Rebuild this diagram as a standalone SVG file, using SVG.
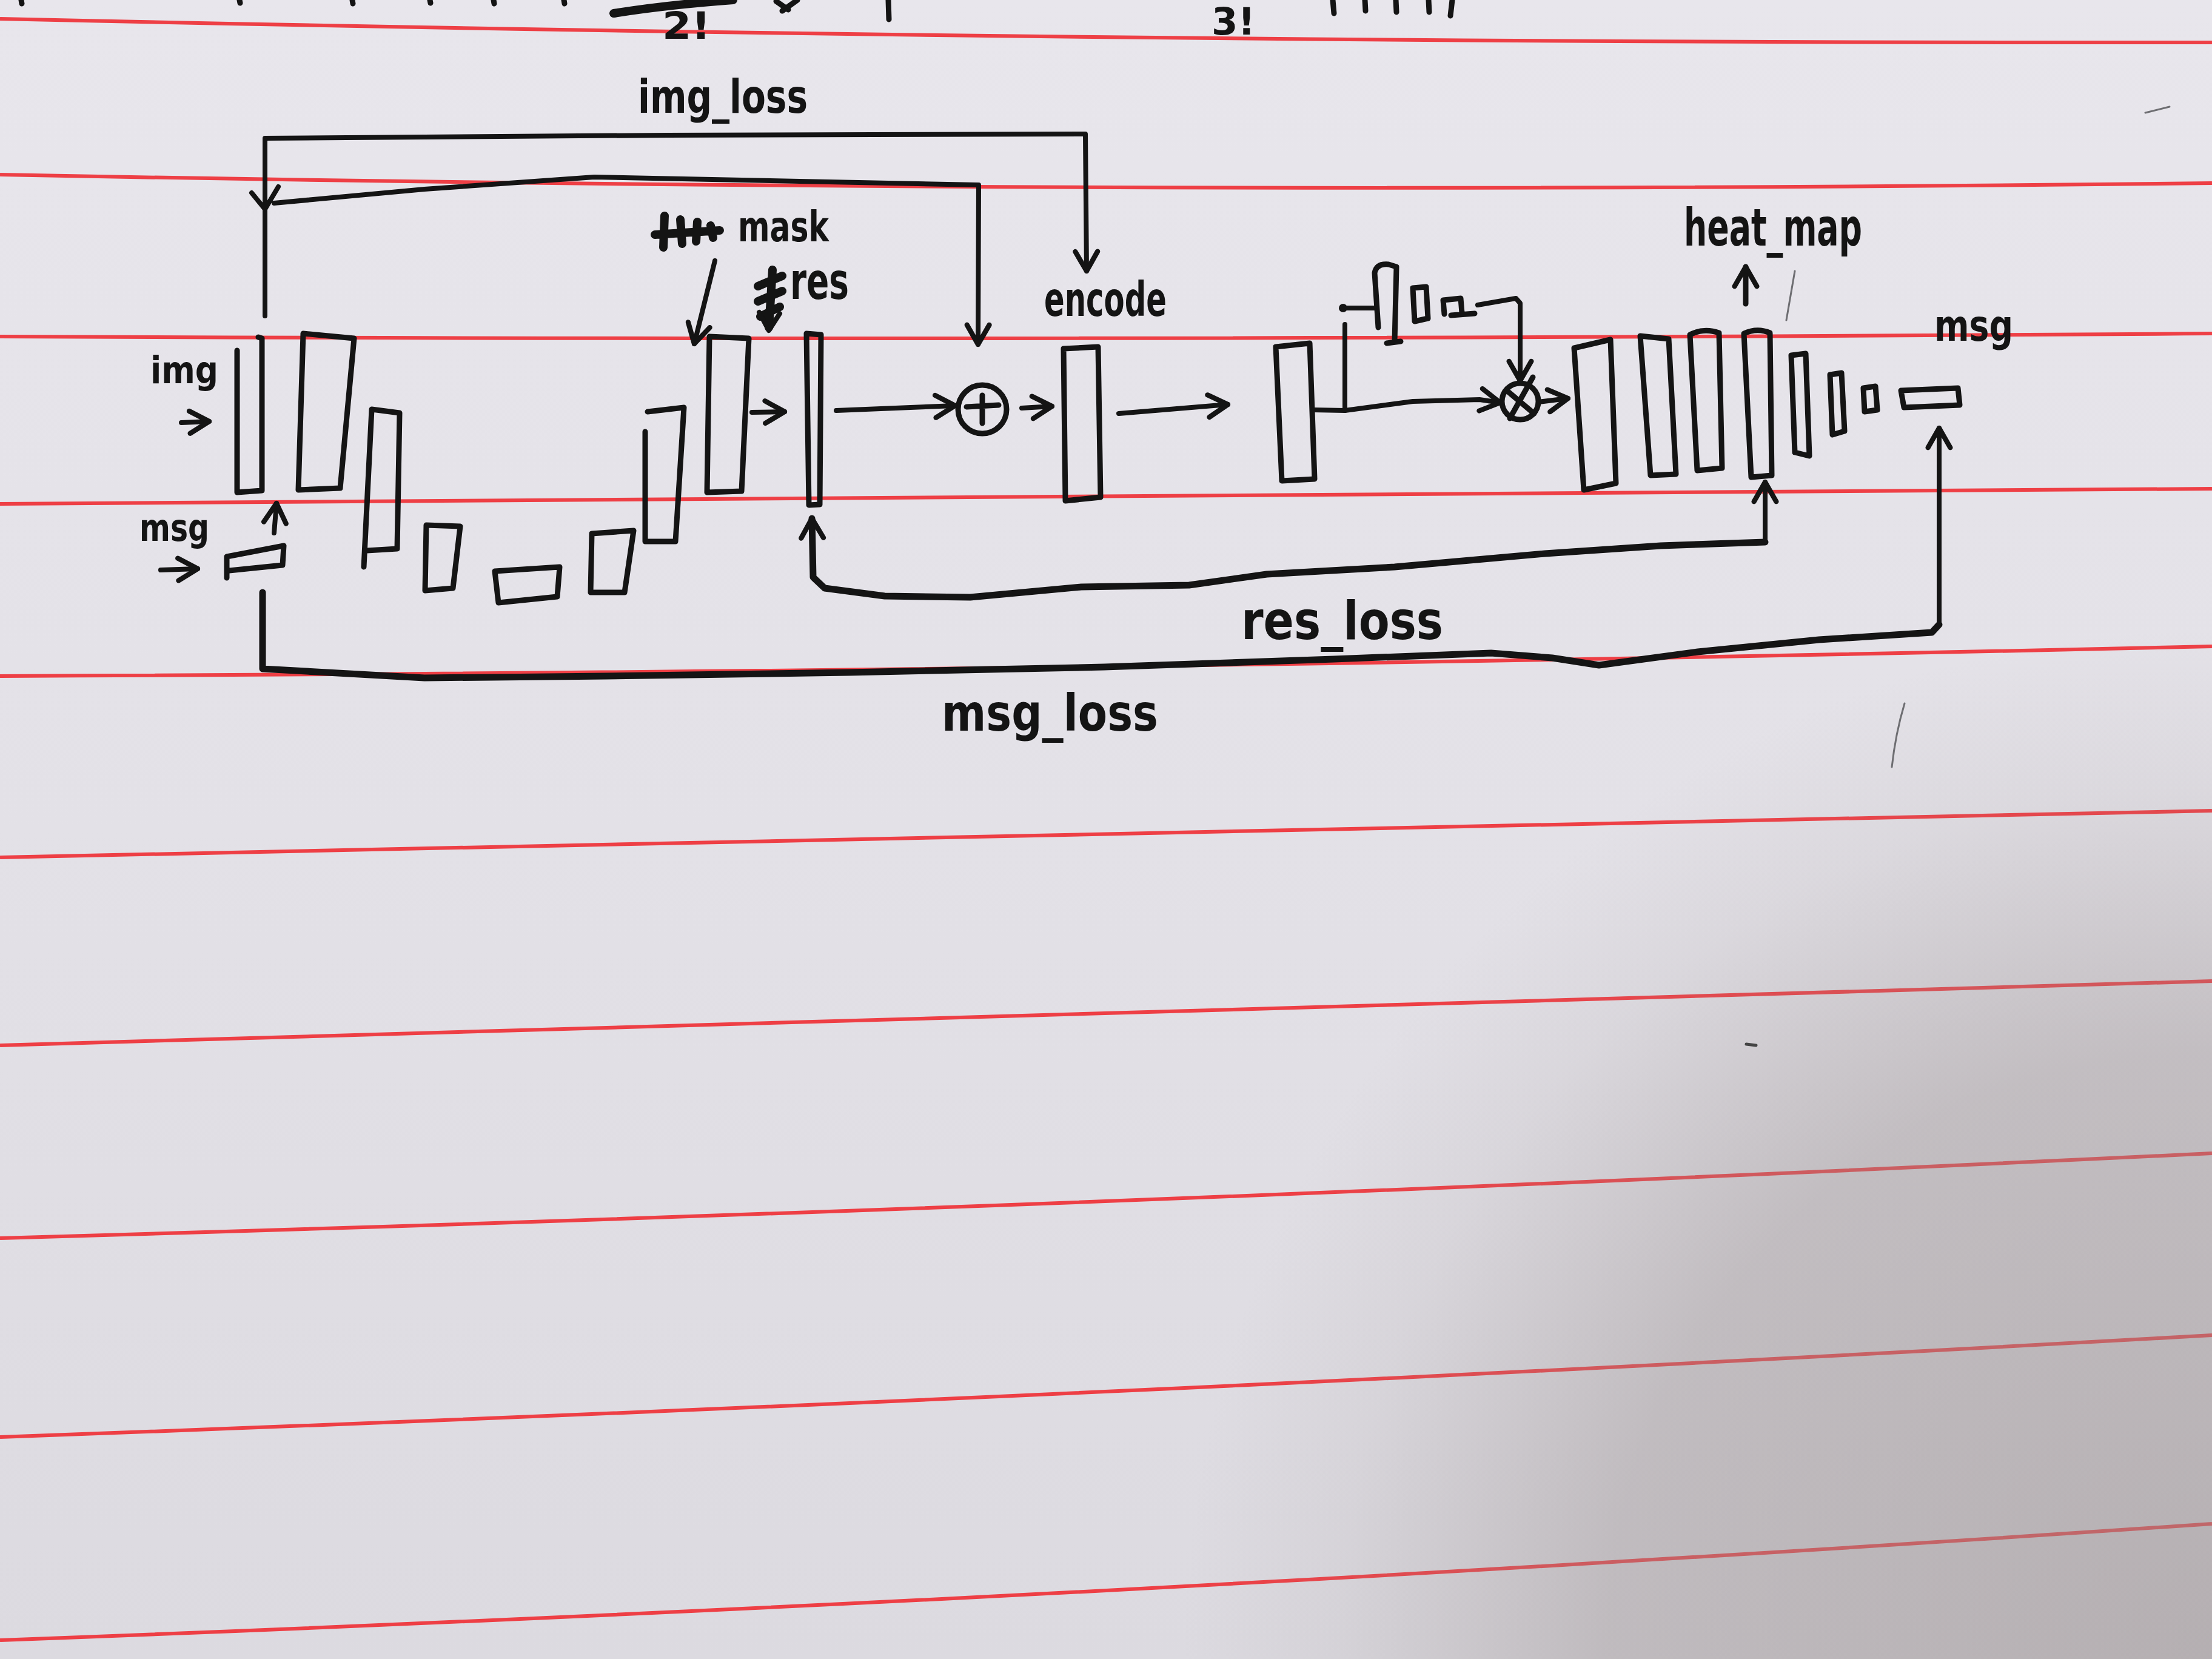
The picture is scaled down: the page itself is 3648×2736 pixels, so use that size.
<svg xmlns="http://www.w3.org/2000/svg" width="3648" height="2736" viewBox="0 0 3648 2736">
<defs>
<linearGradient id="paper" x1="0" y1="0" x2="0" y2="1">
<stop offset="0" stop-color="#e8e6ec"/>
<stop offset="0.5" stop-color="#e3e1e7"/>
<stop offset="1" stop-color="#dcdae0"/>
</linearGradient>
<radialGradient id="shadow" gradientUnits="userSpaceOnUse" cx="3648" cy="2736" r="2000">
<stop offset="0" stop-color="#958c8c" stop-opacity="0.55"/>
<stop offset="0.5" stop-color="#958c8c" stop-opacity="0.4"/>
<stop offset="0.72" stop-color="#958c8c" stop-opacity="0.1"/>
<stop offset="0.85" stop-color="#958c8c" stop-opacity="0"/>
</radialGradient>
<marker id="ah" viewBox="0 0 20 20" refX="17" refY="10" markerWidth="46" markerHeight="46" markerUnits="userSpaceOnUse" orient="auto">
<path d="M3,2 L17,10 L3,18" fill="none" stroke="#141414" stroke-width="3.6" stroke-linecap="round" stroke-linejoin="round"/>
</marker>
<style>
.rl{fill:none;stroke:#ee3f45;stroke-width:6}
.ink{fill:none;stroke:#141414;stroke-width:9;stroke-linecap:round;stroke-linejoin:round}
.thin{fill:none;stroke:#141414;stroke-width:8;stroke-linecap:round;stroke-linejoin:round}
.heavy{fill:none;stroke:#141414;stroke-width:11;stroke-linecap:round;stroke-linejoin:round}
.scr{fill:none;stroke:#141414;stroke-width:14;stroke-linecap:round;stroke-linejoin:round}
.pen{fill:none;stroke:#6e6e72;stroke-width:3;stroke-linecap:round}
.t{font-family:"DejaVu Sans Condensed","DejaVu Sans",sans-serif;font-weight:bold;fill:#141414}
</style>
</defs>
<rect x="0" y="0" width="3648" height="2736" fill="url(#paper)"/>
<g id="ruling">
<path class="rl" d="M0,31 Q1824,72 3648,70"/>
<path class="rl" d="M0,288 Q1824,323 3648,302"/>
<path class="rl" d="M0,555 Q1824,563 3648,550"/>
<path class="rl" d="M0,831 Q1824,822 3648,806"/>
<path class="rl" d="M0,1115 Q1824,1108 3648,1066"/>
<path class="rl" d="M0,1414 Q1824,1383 3648,1337"/>
<path class="rl" d="M0,1724 Q1824,1673 3648,1618"/>
<path class="rl" d="M0,2042 Q1824,1990 3648,1902"/>
<path class="rl" d="M0,2370 Q1824,2304 3648,2202"/>
<path class="rl" d="M0,2705 Q1824,2637 3648,2513"/>
</g>
<rect x="0" y="0" width="3648" height="2736" fill="url(#shadow)"/>

<g id="top-fragments">
<path class="scr" d="M1012,22 Q1100,8 1209,0"/>
<text class="t" x="1092" y="64" font-size="62" textLength="80" lengthAdjust="spacingAndGlyphs">2!</text>
<path class="ink" d="M1280,2 L1300,16 M1315,0 L1290,18"/>
<path class="ink" d="M1465,0 L1466,32"/>
<text class="t" x="1998" y="57" font-size="62" textLength="72" lengthAdjust="spacingAndGlyphs">3!</text>
<path class="ink" d="M2198,0 L2200,22 M2251,0 L2252,18 M2302,0 L2303,20 M2356,0 L2357,20 M2395,0 L2392,26"/>
<path class="ink" d="M35,0 L36,6 M395,0 L396,5 M581,0 L582,6 M709,0 L710,5 M814,0 L815,6 M930,0 L931,6"/>
</g>

<g id="labels">
<text class="t" x="1052" y="186" font-size="76" textLength="280" lengthAdjust="spacingAndGlyphs">img_loss</text>
<path class="scr" d="M1080,387 L1187,380 M1096,356 L1094,408 M1122,362 L1125,402 M1150,366 L1148,398 M1172,372 L1176,392"/>
<text class="t" x="1217" y="398" font-size="70" textLength="150" lengthAdjust="spacingAndGlyphs">mask</text>
<text class="t" x="1303" y="493" font-size="84" textLength="97" lengthAdjust="spacingAndGlyphs">res</text>
<text class="t" x="1722" y="521" font-size="78" textLength="202" lengthAdjust="spacingAndGlyphs">encode</text>
<text class="t" x="2777" y="405" font-size="86" textLength="294" lengthAdjust="spacingAndGlyphs">heat_map</text>
<text class="t" x="3190" y="562" font-size="72" textLength="130" lengthAdjust="spacingAndGlyphs">msg</text>
<text class="t" x="248" y="632" font-size="62" textLength="112" lengthAdjust="spacingAndGlyphs">img</text>
<text class="t" x="230" y="892" font-size="62" textLength="115" lengthAdjust="spacingAndGlyphs">msg</text>
<text class="t" x="2047" y="1054" font-size="88" textLength="333" lengthAdjust="spacingAndGlyphs">res_loss</text>
<text class="t" x="1553" y="1205" font-size="84" textLength="357" lengthAdjust="spacingAndGlyphs">msg_loss</text>
</g>

<g id="encoder-nodes">
<g id="msg-in"><path class="ink" d="M374,918 L468,900 L466,932 L378,941 M374,918 L374,953"/></g>
<g id="e1"><path class="ink" d="M391,578 L391,812 L432,809 L432,558 L426,556"/></g>
<g id="e2"><path class="ink" d="M500,550 L584,558 L561,805 L492,808 Z"/></g>
<g id="e3"><path class="ink" d="M659,681 L613,675 L600,935 M605,908 L655,905 L659,681"/></g>
<g id="e4"><path class="ink" d="M703,866 L759,868 L747,970 L701,974 Z"/></g>
<g id="e5"><path class="ink" d="M816,942 L923,935 L919,984 L822,994 Z"/></g>
<g id="e6"><path class="ink" d="M976,880 L1045,875 L1030,977 L974,977 Z"/></g>
<g id="e7"><path class="ink" d="M1068,679 L1128,672 L1114,893 L1064,893 L1064,712"/></g>
<g id="e8"><path class="ink" d="M1170,555 L1235,558 L1223,810 L1166,812 Z"/></g>
<g id="e9"><path class="ink" d="M1330,550 L1354,552 L1352,832 L1334,833 Z"/></g>
<g id="add"><circle class="ink" cx="1620" cy="675" r="40"/><path class="ink" d="M1594,671 L1647,668 M1620,652 L1620,698"/></g>
<g id="encode-box"><path class="ink" d="M1754,575 L1811,572 L1815,820 L1757,826 Z"/></g>
</g>

<g id="decoder-nodes">
<g id="d0"><path class="ink" d="M2104,572 L2160,566 L2168,790 L2114,793 Z"/></g>
<g id="a1"><path class="ink" d="M2273,540 L2267,450 Q2270,434 2290,436 L2303,440 L2300,563 M2287,566 L2310,563"/></g>
<g id="a2"><path class="ink" d="M2330,475 L2352,473 L2355,525 L2333,530 Z"/></g>
<g id="a3"><path class="ink" d="M2380,495 L2409,492 L2411,516 M2380,495 L2382,518 M2393,520 L2432,517"/></g>
<g id="mul"><circle class="ink" cx="2507" cy="662" r="30"/><path class="ink" d="M2490,690 L2528,622 M2486,645 L2530,682"/></g>
<g id="d1"><path class="ink" d="M2596,574 L2656,560 L2665,797 L2612,808 Z"/></g>
<g id="d2"><path class="ink" d="M2705,554 L2752,559 L2764,782 L2722,784 Z"/></g>
<g id="d3"><path class="ink" d="M2787,552 Q2810,540 2835,549 L2840,772 L2799,776 Z"/></g>
<g id="d4"><path class="ink" d="M2876,550 Q2898,540 2919,549 L2922,784 L2888,787 Z"/></g>
<g id="d5"><path class="ink" d="M2954,586 L2978,583 L2984,752 L2960,746 Z"/></g>
<g id="d6"><path class="ink" d="M3018,618 L3037,615 L3042,711 L3022,717 Z"/></g>
<g id="d7"><path class="ink" d="M3073,640 L3093,637 L3096,676 L3075,679 Z"/></g>
<g id="msg-out"><path class="ink" d="M3135,644 L3229,640 L3232,668 L3140,672 Z"/></g>
</g>

<g id="connectors">
<path class="thin" d="M437,521 L437,228 L1100,223 L1790,221 L1792,447" marker-end="url(#ah)"/>
<path class="thin" d="M415,318 L437,345 L459,308"/>
<path class="thin" d="M452,335 L700,312 L980,292 L1614,305 L1613,568" marker-end="url(#ah)"/>
<path class="thin" d="M299,697 L345,695" marker-end="url(#ah)"/>
<path class="thin" d="M265,940 L326,938" marker-end="url(#ah)"/>
<path class="thin" d="M452,879 L456,830" marker-end="url(#ah)"/>
<path class="thin" d="M1179,430 L1145,567" marker-end="url(#ah)"/>
<path class="scr" d="M1274,445 L1268,540 M1250,472 L1290,455 M1250,497 L1290,480 M1254,522 L1286,506"/>
<path class="thin" d="M1252,515 L1268,545 L1286,517"/>
<path class="thin" d="M1240,680 L1294,679" marker-end="url(#ah)"/>
<path class="thin" d="M1379,677 L1575,669" marker-end="url(#ah)"/>
<path class="thin" d="M1685,673 L1735,670" marker-end="url(#ah)"/>
<path class="thin" d="M1845,682 L2025,667" marker-end="url(#ah)"/>
<path class="thin" d="M2166,676 L2218,677 L2330,662 L2440,659 L2474,664" marker-end="url(#ah)"/>
<path class="thin" d="M2218,677 L2218,535 M2215,508 L2267,508"/>
<circle cx="2215" cy="508" r="7" fill="#141414"/>
<path class="thin" d="M2437,503 L2500,492 L2507,500 L2507,628" marker-end="url(#ah)"/>
<path class="thin" d="M2537,663 L2586,657" marker-end="url(#ah)"/>
<path class="ink" d="M2879,501 L2879,440" marker-end="url(#ah)"/>
<path class="heavy" d="M2911,894 L2739,900 L2548,913 L2300,935 L2089,947 L1961,965 L1783,968 L1600,985 L1459,983 L1360,970 L1341,952 L1339,855" marker-end="url(#ah)"/>
<path class="thin" d="M2911,894 L2911,795" marker-end="url(#ah)"/>
<path class="heavy" d="M433,977 L433,1103 L700,1118 L1000,1115 L1400,1109 L1821,1100 L2200,1087 L2459,1077 L2560,1085 L2637,1097 L2800,1075 L3000,1055 L3186,1043 L3198,1030"/>
<path class="thin" d="M3198,1030 L3198,706" marker-end="url(#ah)"/>
</g>

<g id="marks">
<path class="pen" d="M2960,447 L2946,528"/>
<path class="pen" d="M3141,1160 Q3126,1210 3120,1265"/>
<path class="pen" d="M3538,186 L3578,176"/>
<path d="M2880,1722 L2896,1724" stroke="#444" stroke-width="5" stroke-linecap="round"/>
</g>
</svg>
